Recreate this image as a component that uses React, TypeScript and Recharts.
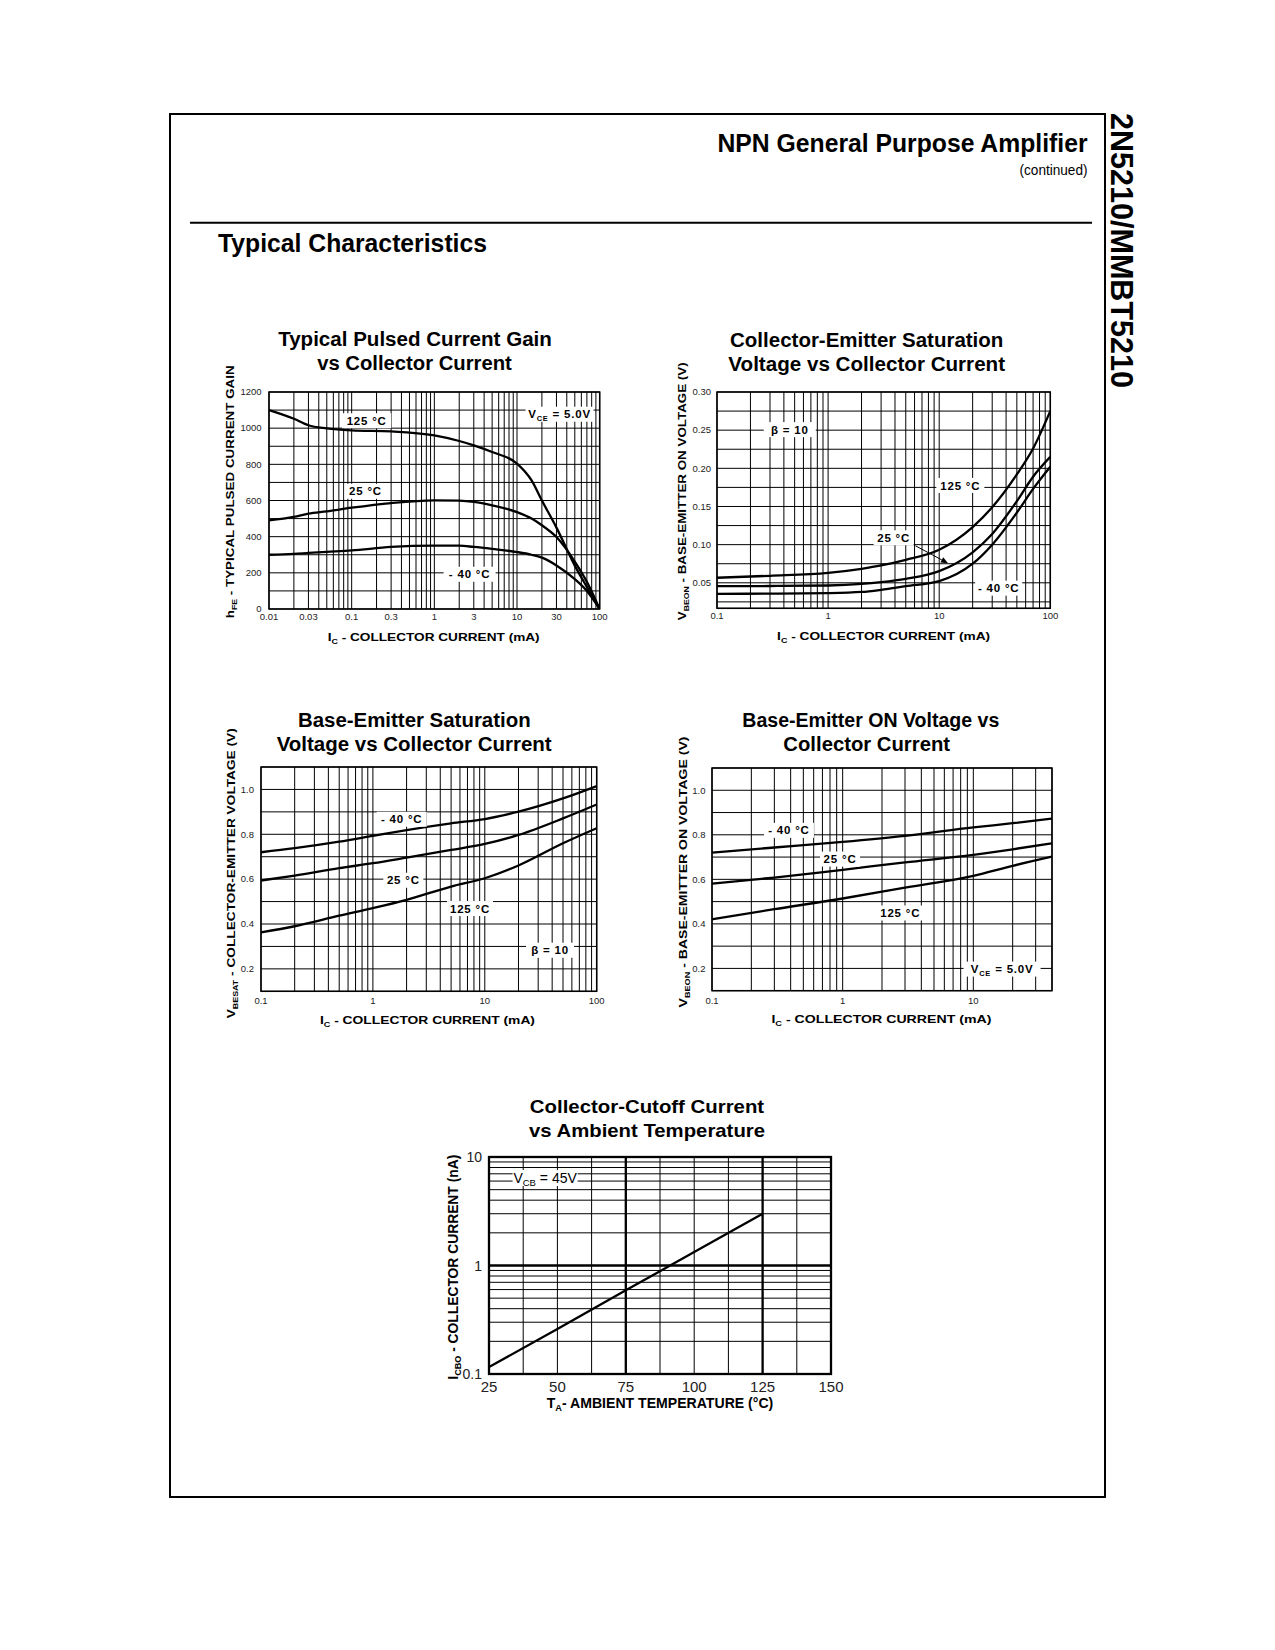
import React from 'react';
import { LineChart, Line, XAxis, YAxis, CartesianGrid, ReferenceDot, ReferenceLine } from 'recharts';

const FONT = '"Liberation Sans", Arial, Helvetica, sans-serif';

// ---------- Chart 1: Typical Pulsed Current Gain vs Collector Current
const gainCurrent = [0.01, 0.02, 0.03, 0.05, 0.1, 0.3, 1, 2, 3, 5, 10, 15, 20, 30, 50, 70, 100];
const gain125 = [1100, 1052, 1016, 999, 988, 982, 960, 929, 905, 868, 804, 711, 600, 450, 240, 122, 0];
const gain25 = [490, 509, 527, 540, 560, 586, 601, 599, 592, 573, 536, 500, 463, 398, 262, 150, 0];
const gainM40 = [300, 305, 310, 316, 324, 343, 350, 350, 343, 332, 315, 300, 284, 241, 165, 100, 0];
const gainXGrid = [0.01, 0.02, 0.03, 0.04, 0.05, 0.06, 0.07, 0.08, 0.09, 0.1, 0.2, 0.3, 0.4, 0.5, 0.6, 0.7, 0.8, 0.9, 1, 2, 3, 4, 5, 6, 7, 8, 9, 10, 20, 30, 40, 50, 60, 70, 80, 90, 100];
const gainXLabels = [0.01, 0.03, 0.1, 0.3, 1, 3, 10, 30, 100];
const gainYGrid = [0, 100, 200, 300, 400, 500, 600, 700, 800, 900, 1000, 1100, 1200];
const gainYLabels = [0, 200, 400, 600, 800, 1000, 1200];

// ---------- Chart 2: Collector-Emitter Saturation Voltage vs Collector Current
const cesatCurrent = [0.1, 0.3, 1, 2, 3, 5, 10, 20, 30, 50, 70, 100];
const cesat125 = [0.0566, 0.0592, 0.0631, 0.0684, 0.0727, 0.0801, 0.0933, 0.123, 0.149, 0.192, 0.226, 0.275];
const cesat25 = [0.0456, 0.0458, 0.0465, 0.0485, 0.0509, 0.0552, 0.0653, 0.09, 0.114, 0.157, 0.189, 0.215];
const cesatM40 = [0.0356, 0.0358, 0.0365, 0.038, 0.0408, 0.0456, 0.0522, 0.075, 0.1, 0.142, 0.173, 0.202];
const decadeGrid3 = [0.1, 0.2, 0.3, 0.4, 0.5, 0.6, 0.7, 0.8, 0.9, 1, 2, 3, 4, 5, 6, 7, 8, 9, 10, 20, 30, 40, 50, 60, 70, 80, 90, 100];
const decadeLabels3 = [0.1, 1, 10, 100];
const cesatYGrid = [0.025, 0.05, 0.075, 0.1, 0.125, 0.15, 0.175, 0.2, 0.225, 0.25, 0.275, 0.3];
const cesatYLabels = [0.05, 0.1, 0.15, 0.2, 0.25, 0.3];

// ---------- Chart 3: Base-Emitter Saturation Voltage vs Collector Current
const besatCurrent = [0.1, 0.2, 0.5, 1, 2, 5, 10, 20, 50, 100];
const besatM40 = [0.72, 0.738, 0.767, 0.793, 0.819, 0.849, 0.868, 0.901, 0.96, 1.015];
const besat25 = [0.594, 0.616, 0.649, 0.671, 0.696, 0.73, 0.757, 0.797, 0.871, 0.933];
const besat125 = [0.363, 0.39, 0.437, 0.471, 0.508, 0.567, 0.604, 0.661, 0.76, 0.827];
const voltYGrid = [0.1, 0.2, 0.3, 0.4, 0.5, 0.6, 0.7, 0.8, 0.9, 1.0, 1.1];
const voltYLabels = [0.2, 0.4, 0.6, 0.8, 1.0];

// ---------- Chart 4: Base-Emitter ON Voltage vs Collector Current
const beonCurrent = [0.1, 0.3, 1, 3, 10, 20, 40];
const beonM40 = [0.72, 0.743, 0.768, 0.795, 0.833, 0.852, 0.873];
const beon25 = [0.581, 0.608, 0.643, 0.676, 0.71, 0.735, 0.762];
const beon125 = [0.421, 0.466, 0.514, 0.563, 0.616, 0.661, 0.702];
const beonXGrid = [0.1, 0.2, 0.3, 0.4, 0.5, 0.6, 0.7, 0.8, 0.9, 1, 2, 3, 4, 5, 6, 7, 8, 9, 10, 20, 30, 40];
const beonXLabels = [0.1, 1, 10];

// ---------- Chart 5: Collector-Cutoff Current vs Ambient Temperature
const cutoffTemp = [25, 50, 75, 100, 125];
const cutoffCurrent = [0.116, 0.26, 0.59, 1.33, 3.0];
const tempGrid = [25, 37.5, 50, 62.5, 75, 87.5, 100, 112.5, 125, 137.5, 150];
const tempLabels = [25, 50, 75, 100, 125, 150];
const cutoffYGrid = [0.1, 0.2, 0.3, 0.4, 0.5, 0.6, 0.7, 0.8, 0.9, 1, 2, 3, 4, 5, 6, 7, 8, 9, 10];
const cutoffYLabels = [0.1, 1, 10];

const PL = 90, PT = 50, PR = 30, PB = 50;

type Ann = { x: number; y: number; w: number; h?: number; fs?: number; bold?: boolean; node: React.ReactNode };

function AnnBox({ cx, cy, a }: { cx: number; cy: number; a: Ann }) {
  const h = a.h ?? 15;
  const fs = a.fs ?? 11.5;
  return (
    <g>
      <rect x={cx - a.w / 2} y={cy - h / 2} width={a.w} height={h} fill="#fff" />
      <text x={cx} y={cy + fs * 0.36} textAnchor="middle" fontSize={fs} fontWeight={a.bold === false ? 'normal' : 'bold'} letterSpacing={a.bold === false ? 0 : 0.8} fontFamily={FONT} fill="#000">
        {a.node}
      </text>
    </g>
  );
}

type PlotProps = {
  rect: [number, number, number, number];
  x: number[];
  series: number[][];
  xDomain: [number, number];
  xLog: boolean;
  xTicks: number[];
  xLabels: number[];
  xFmt: (v: number) => string;
  xDy: number;
  xFont: number;
  yDomain: [number, number];
  yLog: boolean;
  yTicks: number[];
  yLabels: number[];
  yFmt: (v: number) => string;
  yDx: number;
  yDy: number;
  yFont: number;
  border: number;
  curve: 'monotone' | 'linear';
  anns: Ann[];
  refs?: React.ReactNode[];
  titles: React.ReactNode;
};

function Plot(p: PlotProps) {
  const [L, T, R, B] = p.rect;
  const w = R - L + PL + PR;
  const h = B - T + PT + PB;
  const ox = L - PL;
  const oy = T - PT;
  const rows = p.x.map((xv, i) => {
    const r: Record<string, number> = { x: xv };
    p.series.forEach((s, j) => {
      r['s' + j] = s[i];
    });
    return r;
  });
  const XTick = (tp: any) => {
    const v = tp.payload.value;
    if (!p.xLabels.includes(v)) return <g />;
    return (
      <text x={tp.x} y={tp.y + p.xDy} textAnchor="middle" fontSize={p.xFont} fontFamily={FONT} fill="#222">
        {p.xFmt(v)}
      </text>
    );
  };
  const YTick = (tp: any) => {
    const v = tp.payload.value;
    if (!p.yLabels.includes(v)) return <g />;
    return (
      <text x={tp.x + p.yDx} y={tp.y + p.yDy} textAnchor="end" fontSize={p.yFont} fontFamily={FONT} fill="#222">
        {p.yFmt(v)}
      </text>
    );
  };
  return (
    <div style={{ position: 'absolute', left: ox, top: oy, width: w, height: h }}>
      <LineChart width={w} height={h} data={rows} margin={{ top: PT, right: PR, bottom: 0, left: 0 }}>
        <CartesianGrid stroke="#000" strokeWidth={1} />
        <XAxis
          dataKey="x"
          type="number"
          scale={p.xLog ? 'log' : 'linear'}
          domain={p.xDomain}
          ticks={p.xTicks}
          interval={0}
          allowDataOverflow
          tick={XTick}
          tickLine={false}
          tickSize={0}
          tickMargin={0}
          axisLine={false}
          height={PB}
        />
        <YAxis
          type="number"
          scale={p.yLog ? 'log' : 'linear'}
          domain={p.yDomain}
          ticks={p.yTicks}
          interval={0}
          allowDataOverflow
          tick={YTick}
          tickLine={false}
          tickSize={0}
          tickMargin={0}
          axisLine={false}
          width={PL}
        />
        {p.refs}
        {p.series.map((_, j) => (
          <Line key={'s' + j} dataKey={'s' + j} type={p.curve} stroke="#000" strokeWidth={2.3} dot={false} isAnimationActive={false} />
        ))}
        {p.anns.map((a, i) => (
          <ReferenceDot key={'a' + i} x={a.x} y={a.y} r={1} shape={(sp: any) => <AnnBox cx={sp.cx} cy={sp.cy} a={a} />} />
        ))}
        <rect x={PL} y={PT} width={R - L} height={B - T} fill="none" stroke="#000" strokeWidth={p.border} />
        <g transform={`translate(${-ox},${-oy})`} fontFamily={FONT} fill="#000">
          {p.titles}
        </g>
      </LineChart>
    </div>
  );
}

function XTitle({ cx, y, len, fs = 11.5 }: { cx: number; y: number; len: number; fs?: number }) {
  return (
    <text x={cx} y={y} textAnchor="middle" fontSize={fs} fontWeight="bold" textLength={len} lengthAdjust="spacingAndGlyphs">
      I<tspan fontSize={fs * 0.65} dy={3}>C</tspan>
      <tspan dy={-3}> - COLLECTOR CURRENT (mA)</tspan>
    </text>
  );
}

function YTitle({ x, cy, len, main, sub, rest, fs = 11.5 }: { x: number; cy: number; len: number; main: string; sub: string; rest: string; fs?: number }) {
  return (
    <text transform={`rotate(-90 ${x} ${cy})`} x={x} y={cy} textAnchor="middle" fontSize={fs} fontWeight="bold" textLength={len} lengthAdjust="spacingAndGlyphs">
      {main}
      <tspan fontSize={fs * 0.65} dy={3}>{sub}</tspan>
      <tspan dy={-3}>{rest}</tspan>
    </text>
  );
}

const vce = (
  <>
    V<tspan fontSize={7.5} dy={3}>CE</tspan>
    <tspan dy={-3}> = 5.0V</tspan>
  </>
);

const fmtStr = (v: number) => String(v);
const fmt2 = (v: number) => v.toFixed(2);
const fmt1 = (v: number) => v.toFixed(1);

function ArrowShape(sp: any) {
  const { x1, y1, x2, y2 } = sp;
  const ang = Math.atan2(y2 - y1, x2 - x1);
  const hl = 7;
  const hw = 3;
  const bx = x2 - hl * Math.cos(ang);
  const by = y2 - hl * Math.sin(ang);
  const px = -Math.sin(ang) * hw;
  const py = Math.cos(ang) * hw;
  return (
    <g>
      <line x1={x1} y1={y1} x2={bx} y2={by} stroke="#000" strokeWidth={1} />
      <polygon points={`${x2},${y2} ${bx + px},${by + py} ${bx - px},${by - py}`} fill="#000" />
    </g>
  );
}

function PageTitle({ cx, y, len, text, fs = 20 }: { cx: number; y: number; len: number; text: string; fs?: number }) {
  return (
    <text x={cx} y={y} textAnchor="middle" fontSize={fs} fontWeight="bold" textLength={len} lengthAdjust="spacingAndGlyphs">
      {text}
    </text>
  );
}

export default function App() {
  return (
    <div style={{ position: 'absolute', left: 0, top: 0, width: 1275, height: 1650, background: '#fff', fontFamily: FONT }}>
      <svg width={1275} height={1650} style={{ position: 'absolute', left: 0, top: 0 }} fontFamily={FONT} fill="#000">
        <rect x={170} y={114} width={935} height={1383} fill="none" stroke="#000" strokeWidth={2} />
        <line x1={190} y1={222.7} x2={1092} y2={222.7} stroke="#000" strokeWidth={2} />
        <text x={1087.5} y={152.3} textAnchor="end" fontSize={26.5} fontWeight="bold" textLength={370} lengthAdjust="spacingAndGlyphs">
          NPN General Purpose Amplifier
        </text>
        <text x={1087.5} y={175} textAnchor="end" fontSize={15} textLength={68} lengthAdjust="spacingAndGlyphs">
          (continued)
        </text>
        <text x={218} y={251.7} fontSize={26} fontWeight="bold" textLength={269} lengthAdjust="spacingAndGlyphs">
          Typical Characteristics
        </text>
        <text transform="rotate(90 1110.5 113)" x={1110.5} y={113} fontSize={31.5} fontWeight="bold" textLength={275} lengthAdjust="spacingAndGlyphs">
          2N5210/MMBT5210
        </text>
        <PageTitle cx={415} y={346} len={273.7} text="Typical Pulsed Current Gain" />
        <PageTitle cx={414.5} y={370} len={194.7} text="vs Collector Current" />
        <PageTitle cx={866.7} y={346.7} len={273.3} text="Collector-Emitter Saturation" />
        <PageTitle cx={866.7} y={370.7} len={276.7} text="Voltage vs Collector Current" />
        <PageTitle cx={414.3} y={726.7} len={232.7} text="Base-Emitter Saturation" />
        <PageTitle cx={414.2} y={750.7} len={275} text="Voltage vs Collector Current" />
        <PageTitle cx={870.8} y={726.7} len={257} text="Base-Emitter ON Voltage vs" />
        <PageTitle cx={866.7} y={750.7} len={166.7} text="Collector Current" />
        <PageTitle cx={647} y={1112.7} len={234.3} text="Collector-Cutoff Current" fs={19} />
        <PageTitle cx={647} y={1137.3} len={236} text="vs Ambient Temperature" fs={19} />
      </svg>

      {/* Chart 1 */}
      <Plot
        rect={[269.3, 391.7, 600, 608.7]}
        x={gainCurrent}
        series={[gain125, gain25, gainM40]}
        xDomain={[0.01, 100]}
        xLog
        xTicks={gainXGrid}
        xLabels={gainXLabels}
        xFmt={fmtStr}
        xDy={11.3}
        xFont={9.5}
        yDomain={[0, 1200]}
        yLog={false}
        yTicks={gainYGrid}
        yLabels={gainYLabels}
        yFmt={fmtStr}
        yDx={-7.5}
        yDy={3.3}
        yFont={9.5}
        border={1.5}
        curve="monotone"
        anns={[
          { x: 0.152, y: 1041, w: 49, node: '125 °C' },
          { x: 0.147, y: 651, w: 42, node: '25 °C' },
          { x: 2.67, y: 192, w: 52, node: '- 40 °C' },
          { x: 32.7, y: 1077, w: 68, node: vce },
        ]}
        titles={
          <>
            <XTitle cx={434} y={640.7} len={212} />
            <YTitle x={234} cy={491.5} len={253} main="h" sub="FE" rest=" - TYPICAL PULSED CURRENT GAIN" />
          </>
        }
      />

      {/* Chart 2 */}
      <Plot
        rect={[716.7, 391.7, 1050, 608]}
        x={cesatCurrent}
        series={[cesat125, cesat25, cesatM40]}
        xDomain={[0.1, 100]}
        xLog
        xTicks={decadeGrid3}
        xLabels={decadeLabels3}
        xFmt={fmtStr}
        xDy={11}
        xFont={9.5}
        yDomain={[0.0166, 0.3]}
        yLog={false}
        yTicks={cesatYGrid}
        yLabels={cesatYLabels}
        yFmt={fmt2}
        yDx={-6}
        yDy={3.3}
        yFont={9.5}
        border={1.5}
        curve="monotone"
        refs={[
          <ReferenceLine key="arrow" segment={[{ x: 6.11, y: 0.0985 }, { x: 12, y: 0.0757 }]} shape={ArrowShape} />,
        ]}
        anns={[
          { x: 0.452, y: 0.2507, w: 52, node: 'β = 10' },
          { x: 15.5, y: 0.1776, w: 48, node: '125 °C' },
          { x: 3.89, y: 0.109, w: 40, node: '25 °C' },
          { x: 34.3, y: 0.043, w: 47, node: '- 40 °C' },
        ]}
        titles={
          <>
            <XTitle cx={883.3} y={639.3} len={213} />
            <YTitle x={686} cy={491} len={258} main="V" sub="BEON" rest=" - BASE-EMITTER ON VOLTAGE (V)" />
          </>
        }
      />

      {/* Chart 3 */}
      <Plot
        rect={[261, 766.7, 596.7, 991]}
        x={besatCurrent}
        series={[besatM40, besat25, besat125]}
        xDomain={[0.1, 100]}
        xLog
        xTicks={decadeGrid3}
        xLabels={decadeLabels3}
        xFmt={fmtStr}
        xDy={13}
        xFont={9.5}
        yDomain={[0.1, 1.1]}
        yLog={false}
        yTicks={voltYGrid}
        yLabels={voltYLabels}
        yFmt={fmt1}
        yDx={-7}
        yDy={3.3}
        yFont={9.5}
        border={1.5}
        curve="monotone"
        anns={[
          { x: 1.81, y: 0.867, w: 50, node: '- 40 °C' },
          { x: 1.87, y: 0.595, w: 40, node: '25 °C' },
          { x: 7.38, y: 0.469, w: 46, node: '125 °C' },
          { x: 38.3, y: 0.283, w: 48, node: 'β = 10' },
        ]}
        titles={
          <>
            <XTitle cx={427.5} y={1023.3} len={215} />
            <YTitle x={235} cy={873} len={290} main="V" sub="BESAT" rest=" - COLLECTOR-EMITTER VOLTAGE (V)" />
          </>
        }
      />

      {/* Chart 4 */}
      <Plot
        rect={[712.3, 768.3, 1052.3, 991]}
        x={beonCurrent}
        series={[beonM40, beon25, beon125]}
        xDomain={[0.1, 40]}
        xLog
        xTicks={beonXGrid}
        xLabels={beonXLabels}
        xFmt={fmtStr}
        xDy={13}
        xFont={9.5}
        yDomain={[0.1, 1.1]}
        yLog={false}
        yTicks={voltYGrid}
        yLabels={voltYLabels}
        yFmt={fmt1}
        yDx={-6.5}
        yDy={3.3}
        yFont={9.5}
        border={1.5}
        curve="monotone"
        anns={[
          { x: 0.388, y: 0.82, w: 50, node: '- 40 °C' },
          { x: 0.955, y: 0.691, w: 40, node: '25 °C' },
          { x: 2.76, y: 0.449, w: 52, node: '125 °C' },
          { x: 16.6, y: 0.197, w: 77, node: vce },
        ]}
        titles={
          <>
            <XTitle cx={881.7} y={1023.3} len={220} />
            <YTitle x={687} cy={872.3} len={271} main="V" sub="BEON" rest=" - BASE-EMITTER ON VOLTAGE (V)" />
          </>
        }
      />

      {/* Chart 5 */}
      <Plot
        rect={[489, 1157.3, 831, 1374.3]}
        x={cutoffTemp}
        series={[cutoffCurrent]}
        xDomain={[25, 150]}
        xLog={false}
        xTicks={tempGrid}
        xLabels={tempLabels}
        xFmt={fmtStr}
        xDy={18}
        xFont={15}
        yDomain={[0.1, 10]}
        yLog
        yTicks={cutoffYGrid}
        yLabels={cutoffYLabels}
        yFmt={fmtStr}
        yDx={-7}
        yDy={5}
        yFont={14}
        border={2.3}
        curve="linear"
        refs={[
          <ReferenceLine key="v75" x={75} stroke="#000" strokeWidth={2.3} />,
          <ReferenceLine key="v125" x={125} stroke="#000" strokeWidth={2.3} />,
          <ReferenceLine key="h1" y={1} stroke="#000" strokeWidth={2.3} />,
        ]}
        anns={[
          {
            x: 45.5,
            y: 6.4,
            w: 65,
            h: 16,
            fs: 14,
            bold: false,
            node: (
              <>
                V<tspan fontSize={9.5} dy={3}>CB</tspan>
                <tspan dy={-3}> = 45V</tspan>
              </>
            ),
          },
        ]}
        titles={
          <>
            <text x={660} y={1408.3} textAnchor="middle" fontSize={14.5} fontWeight="bold" textLength={226.6} lengthAdjust="spacingAndGlyphs">
              T<tspan fontSize={9.5} dy={3}>A</tspan>
              <tspan dy={-3}>- AMBIENT TEMPERATURE (°C)</tspan>
            </text>
            <text transform="rotate(-90 458 1267.5)" x={458} y={1267.5} textAnchor="middle" fontSize={14.5} fontWeight="bold" textLength={225} lengthAdjust="spacingAndGlyphs">
              I<tspan fontSize={9.5} dy={3}>CBO</tspan>
              <tspan dy={-3}> - COLLECTOR CURRENT (nA)</tspan>
            </text>
          </>
        }
      />
    </div>
  );
}
